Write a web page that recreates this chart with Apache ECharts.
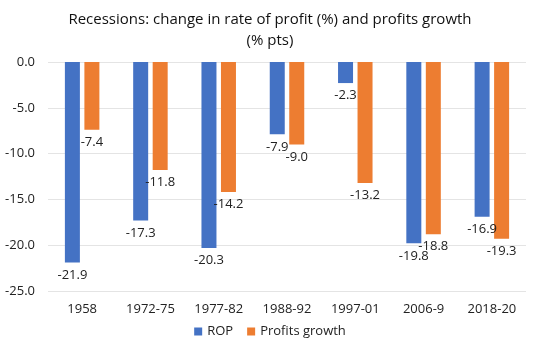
<!DOCTYPE html>
<html>
<head>
<meta charset="utf-8">
<script src="https://cdn.jsdelivr.net/npm/echarts@6/dist/echarts.min.js"></script>
<style>
  html, body { margin: 0; padding: 0; background: #fff; }
  #chart { width: 540px; height: 350px; }
</style>
</head>
<body>
<div id="chart"></div>
<script>
const periods = ['1958', '1972-75', '1977-82', '1988-92', '1997-01', '2006-9', '2018-20']
const rop = [-21.9, -17.3, -20.3, -7.9, -2.3, -19.8, -16.9]
const profitsGrowth = [-7.4, -11.8, -14.2, -9.0, -13.2, -18.8, -19.3]

const font = 'Open Sans'

const labelOpt = {
  show: true,
  position: 'bottom',
  distance: 6,
  color: '#222',
  fontFamily: font,
  fontSize: 13,
  formatter: p => p.value.toFixed(1)
}

const chart = echarts.init(document.getElementById('chart'))
chart.setOption({
  animation: false,
  title: {
    text: 'Recessions: change in rate of profit (%) and profits growth\n(% pts)',
    left: 'center',
    top: 4,
    textStyle: { fontFamily: font, fontSize: 15, fontWeight: 'normal', color: '#111', lineHeight: 21 }
  },
  legend: {
    bottom: 7,
    itemWidth: 8,
    itemHeight: 8,
    icon: 'rect',
    itemGap: 14,
    textStyle: { fontFamily: font, fontSize: 13, color: '#222' },
    data: ['ROP', 'Profits growth']
  },
  grid: { left: 48, right: 14, top: 62, bottom: 59 },
  xAxis: {
    type: 'category',
    data: periods,
    position: 'bottom',
    axisLine: { show: false },
    axisTick: { show: false },
    axisLabel: { fontFamily: font, fontSize: 13, color: '#222', margin: 12 }
  },
  yAxis: {
    type: 'value',
    min: -25,
    max: 0,
    interval: 5,
    axisLine: { show: false },
    axisTick: { show: false },
    splitLine: { lineStyle: { color: '#e4e4e4' } },
    axisLabel: { fontFamily: font, fontSize: 13, color: '#222', formatter: v => v.toFixed(1), margin: 13 }
  },
  series: [
    {
      name: 'ROP',
      type: 'bar',
      data: rop,
      barWidth: 15,
      barGap: '30%',
      itemStyle: { color: '#4472C4' },
      label: labelOpt
    },
    {
      name: 'Profits growth',
      type: 'bar',
      data: profitsGrowth,
      barWidth: 15,
      itemStyle: { color: '#ED7D31' },
      label: labelOpt
    }
  ]
})
</script>
</body>
</html>
